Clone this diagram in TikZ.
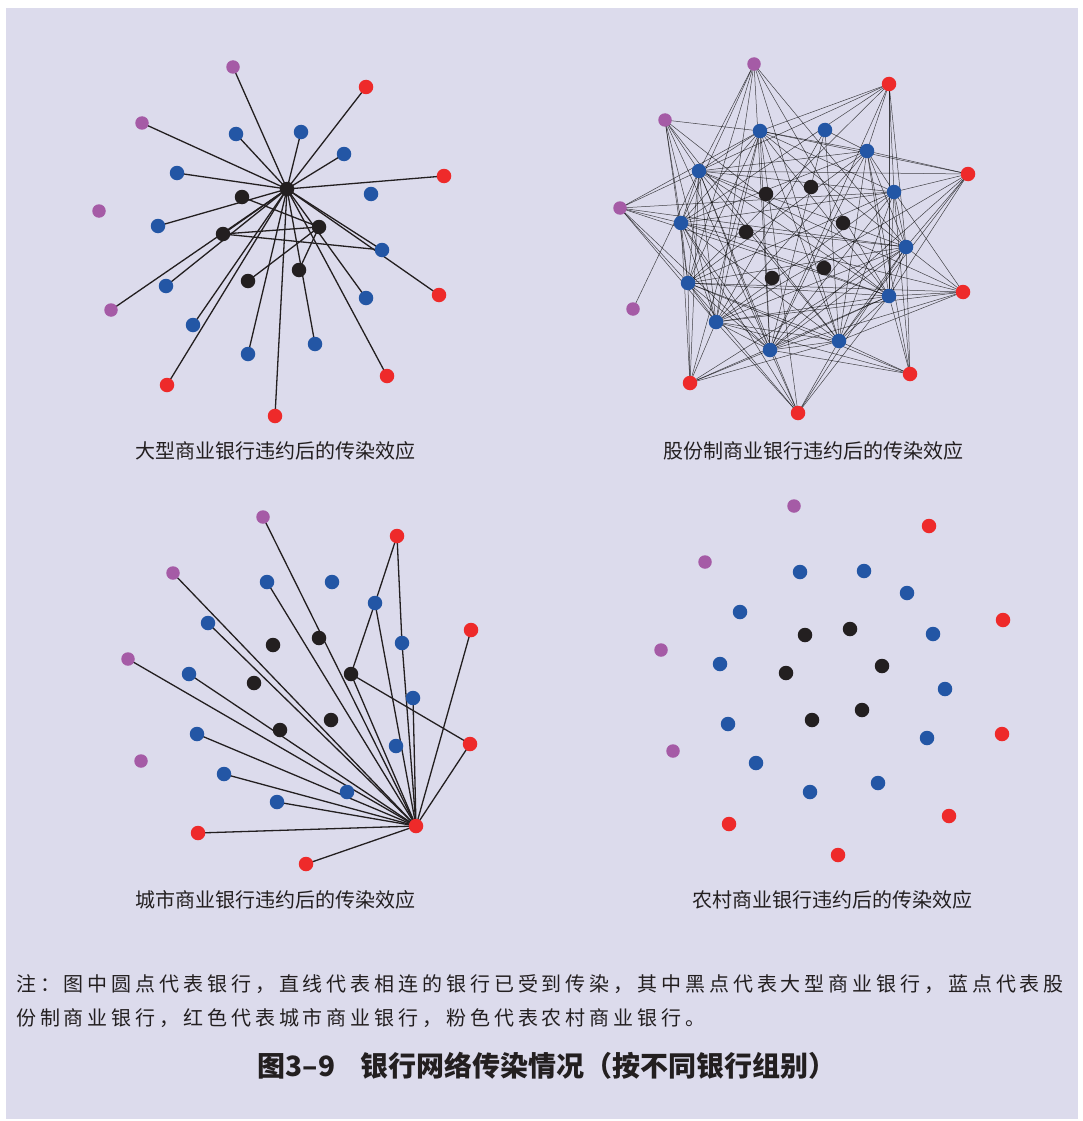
\documentclass[tikz,border=0pt]{standalone}
\usepackage{fontspec}
\setmainfont{Noto Sans CJK SC}
\newfontfamily\notefont[LetterSpace=19.5]{Noto Sans CJK SC}
\pgfdeclarelayer{bglayer}
\pgfdeclarelayer{edges}
\pgfsetlayers{bglayer,edges,main}
\definecolor{bgc}{HTML}{DCDBEC}
\definecolor{cpur}{HTML}{A55BA6}
\definecolor{cred}{HTML}{EE2A2A}
\definecolor{cblu}{HTML}{2356A5}
\definecolor{cblk}{HTML}{231F20}
\tikzset{
  dot/.style={circle,inner sep=0pt,minimum size=14.5pt},
  pdot/.style={dot,fill=cpur,minimum size=13.5pt},
  rdot/.style={dot,fill=cred},
  bdot/.style={dot,fill=cblu},
  kdot/.style={dot,fill=cblk},
  boldedge/.style={draw=cblk,line width=1.3pt},
  fineedge/.style={draw=black,line width=0.5pt,opacity=0.7},
  captext/.style={font=\fontsize{20}{20}\selectfont,text=cblk,inner sep=0pt},
  notestyle/.style={font=\notefont\fontsize{20}{20}\selectfont,text=cblk,inner sep=0pt,anchor=west},
  titlestyle/.style={font=\bfseries\fontsize{28}{28}\selectfont,text=cblk,inner sep=0pt},
}
\begin{document}
\begin{tikzpicture}[x=1pt,y=-1pt]
\begin{pgfonlayer}{bglayer}
\fill[white] (0,0) rectangle (1082,1121);
\fill[bgc] (6,8) rectangle (1078,1119);
\end{pgfonlayer}
\useasboundingbox (0,0) rectangle (1082,1121);

% ---------- nodes: purple ----------
\foreach \n/\x/\y in {Ap1/233/67,Ap2/142/123,Ap3/99/211,Ap4/111/310,
  Bp1/754/64,Bp2/665/120,Bp3/620/208,Bp4/633/309,
  Cp1/263/517,Cp2/173/573,Cp3/128/659,Cp4/141/761,
  Dp1/794/506,Dp2/705/562,Dp3/661/650,Dp4/673/751}
  \node[pdot] (\n) at (\x,\y) {};
% ---------- nodes: red ----------
\foreach \n/\x/\y in {Ar1/366/87,Ar2/444/176,Ar3/439/295,Ar4/387/376,Ar5/275/416,Ar6/167/385,
  Br1/889/84,Br2/968/174,Br3/963/292,Br4/910/374,Br5/798/413,Br6/690/383,
  Cr1/397/536,Cr2/471/630,Cr3/470/744,Cr4/416/826,Cr5/306/864,Cr6/198/833,
  Dr1/929/526,Dr2/1003/620,Dr3/1002/734,Dr4/949/816,Dr5/838/855,Dr6/729/824}
  \node[rdot] (\n) at (\x,\y) {};
% ---------- nodes: blue ----------
\foreach \n/\x/\y in {Ab1/236/134,Ab2/301/132,Ab3/344/154,Ab4/177/173,Ab5/371/194,Ab6/158/226,
  Ab7/382/250,Ab8/166/286,Ab9/366/298,Ab10/193/325,Ab11/315/344,Ab12/248/354,
  Bb1/760/131,Bb2/825/130,Bb3/867/151,Bb4/699/171,Bb5/894/192,Bb6/681/223,
  Bb7/906/247,Bb8/688/283,Bb9/889/296,Bb10/716/322,Bb11/839/341,Bb12/770/350,
  Cb1/267/582,Cb2/332/582,Cb3/375/603,Cb4/208/623,Cb5/402/643,Cb6/189/674,
  Cb7/413/698,Cb8/197/734,Cb9/396/746,Cb10/224/774,Cb11/347/792,Cb12/277/802,
  Db1/800/572,Db2/864/571,Db3/907/593,Db4/740/612,Db5/933/634,Db6/720/664,
  Db7/945/689,Db8/728/724,Db9/927/738,Db10/756/763,Db11/878/783,Db12/810/792}
  \node[bdot] (\n) at (\x,\y) {};
% ---------- nodes: black ----------
\foreach \n/\x/\y in {Ak1/287/189,Ak2/242/197,Ak3/223/234,Ak4/319/227,Ak5/299/270,Ak6/248/281,
  Bk1/766/194,Bk2/811/187,Bk3/746/232,Bk4/843/223,Bk5/772/278,Bk6/824/268,
  Ck1/273/645,Ck2/319/638,Ck3/254/683,Ck4/351/674,Ck5/331/720,Ck6/280/730,
  Dk1/805/635,Dk2/850/629,Dk3/786/673,Dk4/882/666,Dk5/812/720,Dk6/862/710}
  \node[kdot] (\n) at (\x,\y) {};

\begin{pgfonlayer}{edges}
% ---------- panel 1 edges ----------
\foreach \t in {Ap1,Ar1,Ap2,Ab1,Ab2,Ab3,Ab4,Ar2,Ab6,Ak3,Ap4,Ab8,Ab10,Ar6,Ab12,Ar5,Ab11,Ar4,Ab9,Ab7,Ar3}
  \draw[boldedge] (Ak1.center) -- (\t.center);
\foreach \a/\b in {Ak2/Ak4,Ak3/Ak4,Ak3/Ab7,Ak4/Ak6,Ak4/Ak5}
  \draw[boldedge] (\a.center) -- (\b.center);
% ---------- panel 3 edges ----------
\foreach \t in {Cp1,Cp2,Cp3,Cb1,Cb4,Cb6,Cb8,Cb10,Cb12,Cr6,Cr5,Cb3,Cb5,Ck4,Cb7,Cr2,Cr3}
  \draw[boldedge] (Cr4.center) -- (\t.center);
\foreach \a/\b in {Cr1/Cb3,Cr1/Cb5,Cb3/Ck4,Ck4/Cr3}
  \draw[boldedge] (\a.center) -- (\b.center);
% ---------- panel 2 edges ----------
\foreach \i in {1,3,4,5,6,7,8,9,10,11,12}{
  \foreach \j in {1,3,4,5,6,7,8,9,10,11,12}{
    \ifnum\i<\j \draw[fineedge] (Bb\i.center) -- (Bb\j.center);\fi
  }}
\foreach \a/\b in {Bb2/Bb3,Bb2/Bb10,Bb2/Bb11,Bb2/Bb12,
  Bp1/Bb4,Bp1/Bb6,Bp1/Bb8,Bp1/Bb10,Bp1/Bb12,Bp1/Bb11,Bp1/Bb9,Bp1/Bb7,
  Bp2/Bb1,Bp2/Bb4,Bp2/Bb6,Bp2/Bb8,Bp2/Bb10,Bp2/Bb12,Bp2/Bb11,Bp2/Bb9,
  Bp3/Bb1,Bp3/Bb4,Bp3/Bb6,Bp3/Bb5,Bp3/Bb7,Bp3/Bb9,Bp3/Bb10,Bp3/Bb12,Bp3/Bb8,
  Bp4/Bb4,
  Br1/Bb1,Br1/Bb4,Br1/Bb6,Br1/Bb3,Br1/Bb5,Br1/Bb7,Br1/Bb9,Br1/Bb12,Br1/Bb8,
  Br2/Bb4,Br2/Bb1,Br2/Bb3,Br2/Bb5,Br2/Bb7,Br2/Bb9,Br2/Bb11,Br2/Bb12,Br2/Bb10,
  Br3/Bb4,Br3/Bb6,Br3/Bb5,Br3/Bb7,Br3/Bb9,Br3/Bb11,Br3/Bb12,Br3/Bb10,Br3/Bb8,
  Br4/Bb5,Br4/Bb7,Br4/Bb9,Br4/Bb11,Br4/Bb12,Br4/Bb10,Br4/Bb8,Br4/Bb3,
  Br5/Bb4,Br5/Bb6,Br5/Bb8,Br5/Bb10,Br5/Bb12,Br5/Bb11,Br5/Bb9,Br5/Bb7,Br5/Bb1,
  Br6/Bb4,Br6/Bb6,Br6/Bb8,Br6/Bb10,Br6/Bb12,Br6/Bb11,Br6/Bb9,Br6/Bb7,Br6/Bb1}
  \draw[fineedge] (\a.center) -- (\b.center);
\end{pgfonlayer}

% ---------- captions ----------
\node[captext] (t1) at (275,451) {大型商业银行违约后的传染效应};
\node[captext] (t2) at (813,451) {股份制商业银行违约后的传染效应};
\node[captext] (t3) at (275,900) {城市商业银行违约后的传染效应};
\node[captext] (t4) at (832,900) {农村商业银行违约后的传染效应};
\node[notestyle] (n1) at (16,984) {注：图中圆点代表银行，直线代表相连的银行已受到传染，其中黑点代表大型商业银行，蓝点代表股};
\node[notestyle] (n2) at (16,1018) {份制商业银行，红色代表城市商业银行，粉色代表农村商业银行。};
\node[titlestyle] (tt) at (547,1066) {图3–9\hspace{0.9em}银行网络传染情况（按不同银行组别）};
\end{tikzpicture}
\end{document}
